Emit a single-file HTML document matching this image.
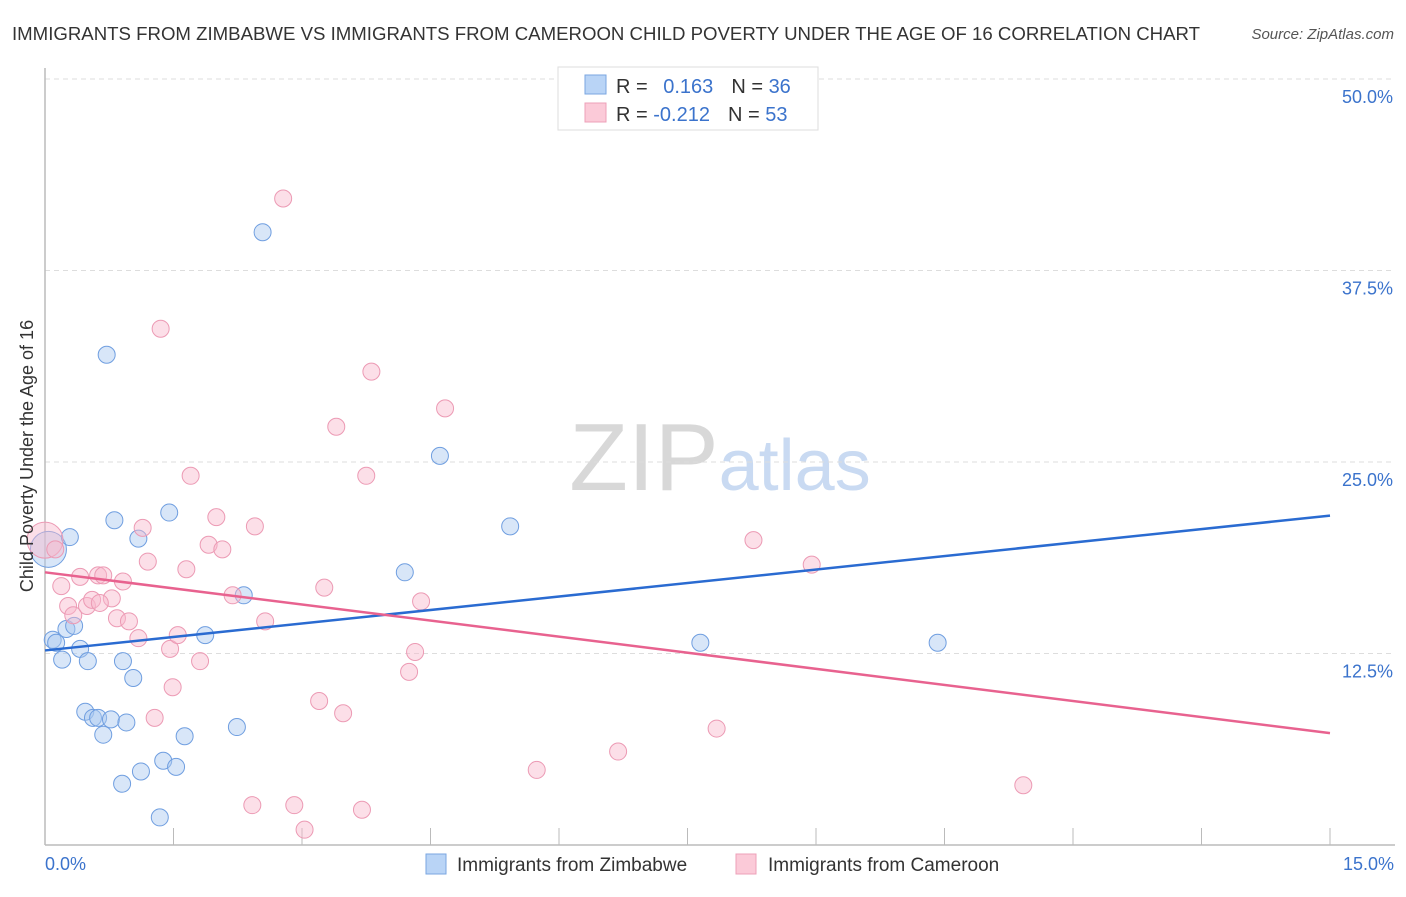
<!DOCTYPE html>
<html><head><meta charset="utf-8"><style>
body{margin:0;background:#fff;font-family:"Liberation Sans",sans-serif}
svg text{font-family:"Liberation Sans",sans-serif}
</style></head><body>
<svg id="chart" width="1406" height="892" xmlns="http://www.w3.org/2000/svg">
<text x="12" y="40" font-size="18" fill="#333" textLength="1188" lengthAdjust="spacingAndGlyphs">IMMIGRANTS FROM ZIMBABWE VS IMMIGRANTS FROM CAMEROON CHILD POVERTY UNDER THE AGE OF 16 CORRELATION CHART</text>
<text x="1394" y="39" font-size="15" fill="#555" text-anchor="end" font-style="italic">Source: ZipAtlas.com</text>
<text x="720" y="490" font-size="96" text-anchor="middle" fill="#ddd" font-family="Liberation Serif"><tspan fill="#d8d8d8">ZIP</tspan><tspan fill="#c9daf2" font-family="Liberation Sans" font-size="72">atlas</tspan></text>
<g id="grid"></g><g id="axes"></g><g id="points"></g><g id="trends"></g>
<text transform="translate(33,456) rotate(-90)" font-size="18" fill="#333" text-anchor="middle">Child Poverty Under the Age of 16</text>
<g>
<rect x="558" y="67" width="260" height="63" fill="#fff" stroke="#ddd"/>
<rect x="585" y="75" width="21" height="19" fill="#b9d4f6" stroke="#7aa6e0"/>
<rect x="585" y="103" width="21" height="19" fill="#fbcad8" stroke="#eea0b8"/>
<text x="616" y="93" font-size="20" fill="#333">R = <tspan fill="#3b73cc" dx="10">0.163</tspan><tspan dx="18" fill="#333">N = </tspan><tspan fill="#3b73cc">36</tspan></text>
<text x="616" y="121" font-size="20" fill="#333">R = <tspan fill="#3b73cc">-0.212</tspan><tspan dx="18" fill="#333">N = </tspan><tspan fill="#3b73cc">53</tspan></text>
</g>
<g>
<rect x="426" y="854" width="20" height="20" fill="#b9d4f6" stroke="#7aa6e0"/>
<text x="457" y="871" font-size="19" fill="#333">Immigrants from Zimbabwe</text>
<rect x="736" y="854" width="20" height="20" fill="#fbcad8" stroke="#eea0b8"/>
<text x="768" y="871" font-size="19" fill="#333">Immigrants from Cameroon</text>
</g>
</svg>
<script>
const yTicks=[12.5,25,37.5,50];
const yTickLabels=["12.5%","25.0%","37.5%","50.0%"];
const xTicks=[0,1.5,3,4.5,6,7.5,9,10.5,12,13.5,15];
const xEndLabels=["0.0%","15.0%"];
const zimX=[0.04,0.09,0.13,0.2,0.25,0.29,0.34,0.41,0.5,0.47,0.56,0.62,0.68,0.77,0.81,0.72,0.91,0.95,0.9,1.03,1.09,1.12,1.34,1.38,1.45,1.53,1.63,1.87,2.24,2.32,2.54,4.2,4.61,5.43,7.65,10.42];
const zimY=[19.3,13.4,13.2,12.1,14.1,20.1,14.3,12.8,12.0,8.7,8.3,8.3,7.2,8.2,21.2,32.0,12.0,8.0,4.0,10.9,20.0,4.8,1.8,5.5,21.7,5.1,7.1,13.7,7.7,16.3,40.0,17.8,25.4,20.8,13.2,13.2];
const camX=[0,0.12,0.19,0.27,0.33,0.41,0.49,0.55,0.62,0.68,0.78,0.84,0.91,0.98,1.09,1.14,1.2,1.28,1.35,1.46,1.49,1.55,1.65,1.7,1.81,1.91,2.0,2.07,2.19,2.42,2.45,2.57,2.78,2.91,3.03,3.2,3.26,3.4,3.48,3.7,3.75,3.81,4.25,4.32,4.39,4.67,5.74,6.69,7.84,8.27,8.95,11.42,0.64];
const camY=[19.9,19.3,16.9,15.6,15.0,17.5,15.6,16.0,17.6,17.6,16.1,14.8,17.2,14.6,13.5,20.7,18.5,8.3,33.7,12.8,10.3,13.7,18.0,24.1,12.0,19.6,21.4,19.3,16.3,2.6,20.8,14.6,42.2,2.6,1.0,9.4,16.8,27.3,8.6,2.3,24.1,30.9,11.3,12.6,15.9,28.5,4.9,6.1,7.6,19.9,18.3,3.9,15.8];
const zimTrend=[12.7,21.5];
const camTrend=[17.8,7.3];
const NS="http://www.w3.org/2000/svg";
const X=v=>45+v/15*1285;
const Y=v=>845-v/50*766;
function mk(tag,attrs,parent){const e=document.createElementNS(NS,tag);for(const k in attrs)e.setAttribute(k,attrs[k]);document.getElementById(parent).appendChild(e);return e;}
yTicks.forEach((t,i)=>{
 const l=mk('line',{x1:45,x2:1395,y1:Y(t),y2:Y(t),stroke:'#ddd','stroke-dasharray':'5,4'},'grid');
 
 
 const tx=mk('text',{x:1393,y:Y(t)+24,'font-size':18,fill:'#3b73cc','text-anchor':'end'},'axes');
 tx.textContent=yTickLabels[i];
 
 
});
const ax=mk('line',{x1:45,x2:45,y1:68,y2:845,stroke:'#bbb','stroke-width':1.5},'axes');


const bx=mk('line',{x1:45,x2:1395,y1:845,y2:845,stroke:'#bbb','stroke-width':1.5},'axes');


xTicks.forEach(t=>{
 const l=mk('line',{x1:X(t),x2:X(t),y1:828,y2:845,stroke:'#bbb'},'axes');
 
 
});
[[0,'start',45],[15,'end',1394]].forEach((d,i)=>{
 const tx=mk('text',{x:d[2],y:870,'font-size':18,fill:'#3b73cc','text-anchor':d[1]},'axes');
 tx.textContent=xEndLabels[i];
 
 
});
function pts(xs,ys,fill,stroke,name){
 xs.forEach((x,i)=>{
  const r=(i===0)?18:8.5;
  const c=mk('circle',{cx:X(x),cy:Y(ys[i]),r:r,fill:fill,'fill-opacity':0.45,stroke:stroke,'stroke-width':1},'points');
  
  
 });
}
pts(zimX,zimY,'#a9c8f0','#6f9ee0','zimbabwe-point');
pts(camX,camY,'#f8b8cc','#ec9ab4','cameroon-point');
const t1=mk('line',{x1:X(0),y1:Y(zimTrend[0]),x2:X(15),y2:Y(zimTrend[1]),stroke:'#2a6bd1','stroke-width':2.5},'trends');


const t2=mk('line',{x1:X(0),y1:Y(camTrend[0]),x2:X(15),y2:Y(camTrend[1]),stroke:'#e8628f','stroke-width':2.5},'trends');


</script>
</body></html>
